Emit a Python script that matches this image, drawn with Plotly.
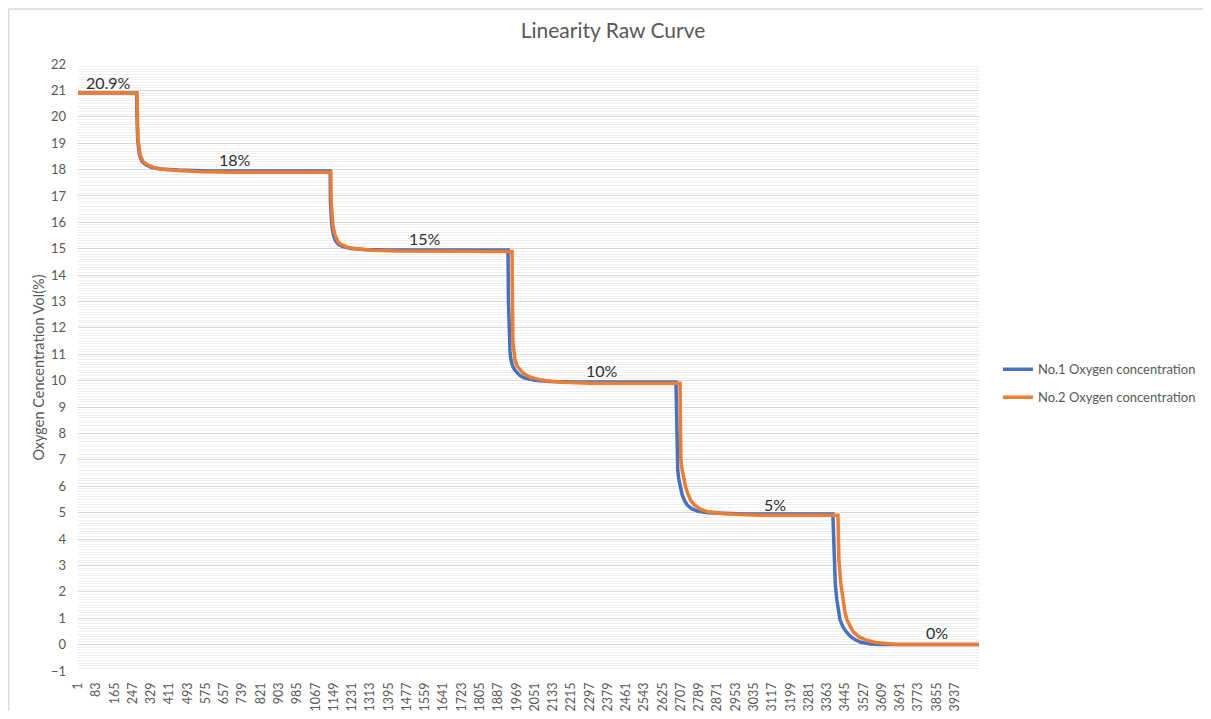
import plotly.graph_objects as go

# ---- data (sample index, O2 %) ----
no1_idx = [1, 264, 266, 269, 277, 289, 308, 332, 370, 450, 600, 1133,
           1134, 1140, 1148, 1157, 1170, 1190, 1225, 1290, 1400, 1931,
           1933, 1936, 1940, 1944, 1952, 1962, 1975, 1984, 2000, 2015, 2050, 2120, 2250, 2685,
           2687, 2689, 2693, 2698, 2705, 2712, 2722, 2734, 2755, 2784, 2830, 2900, 3000, 3389,
           3394, 3400, 3407, 3414, 3421, 3434, 3448, 3466, 3488, 3515, 3556, 3600, 4045]
no1_val = [20.9, 20.9, 19.9, 19.1, 18.55, 18.3, 18.17, 18.08, 18.02, 17.98, 17.95, 17.95,
           16.8, 15.9, 15.5, 15.3, 15.17, 15.08, 15.01, 14.97, 14.95, 14.95,
           13.0, 11.5, 11.1, 10.8, 10.55, 10.4, 10.28, 10.2, 10.12, 10.08, 10.02, 9.97, 9.95, 9.95,
           8.5, 7.0, 6.6, 6.25, 5.95, 5.7, 5.48, 5.3, 5.15, 5.05, 5.0, 4.97, 4.95, 4.95,
           3.2, 2.3, 1.7, 1.25, 0.95, 0.68, 0.5, 0.33, 0.19, 0.09, 0.02, 0.0, 0.0]

no2_idx = [1, 266, 268, 271, 280, 293, 315, 340, 380, 450, 560, 700, 1136,
           1137, 1145, 1155, 1166, 1180, 1205, 1245, 1320, 1430, 1949,
           1951, 1953, 1958, 1962, 1972, 1985, 2000, 2016, 2035, 2060, 2100, 2180, 2300, 2703,
           2705, 2707, 2713, 2721, 2729, 2739, 2750, 2766, 2795, 2829, 2900, 3000, 3100, 3412,
           3416, 3425, 3434, 3443, 3452, 3465, 3479, 3505, 3533, 3580, 3636, 3680, 4045]
no2_val = [20.9, 20.9, 19.9, 19.1, 18.55, 18.3, 18.17, 18.08, 18.01, 17.96, 17.92, 17.9, 17.9,
           16.8, 15.9, 15.5, 15.3, 15.17, 15.07, 15.0, 14.94, 14.91, 14.9,
           13.0, 11.5, 11.1, 10.8, 10.55, 10.4, 10.28, 10.2, 10.12, 10.07, 10.0, 9.94, 9.9, 9.9,
           8.5, 7.0, 6.6, 6.25, 5.95, 5.7, 5.48, 5.3, 5.13, 5.03, 4.96, 4.92, 4.9, 4.9,
           3.2, 2.3, 1.7, 1.25, 0.95, 0.7, 0.5, 0.3, 0.19, 0.08, 0.02, 0.0, 0.0]

x_tick_vals = [1, 83, 165, 247, 329, 411, 493, 575, 657, 739, 821, 903, 985,
               1067, 1149, 1231, 1313, 1395, 1477, 1559, 1641, 1723, 1805,
               1887, 1969, 2051, 2133, 2215, 2297, 2379, 2461, 2543, 2625,
               2707, 2789, 2871, 2953, 3035, 3117, 3199, 3281, 3363, 3445,
               3527, 3609, 3691, 3773, 3855, 3937]
x_tick_text = [str(v) for v in x_tick_vals]

label_text = ["20.9%", "18%", "15%", "10%", "5%", "0%"]
label_x = [140, 706, 1558, 2353, 3129, 3856]
label_y = [21.3, 18.38, 15.4, 10.4, 5.3, 0.45]

BLUE = "#4472C4"
ORANGE = "#ED7D31"
FONT = "Lato"

fig = go.Figure()
fig.add_trace(go.Scatter(x=no1_idx, y=no1_val, mode="lines",
                         name="No.1 Oxygen concentration", legendgroup="a",
                         line=dict(color=BLUE, width=3.5)))
fig.add_trace(go.Scatter(x=no2_idx, y=no2_val, mode="lines",
                         name="No.2 Oxygen concentration", legendgroup="b",
                         line=dict(color=ORANGE, width=3.5)))

for t, x, y in zip(label_text, label_x, label_y):
    fig.add_annotation(x=x, y=y, text=t, showarrow=False,
                       font=dict(family=FONT, size=16, color="#303030"))

fig.update_layout(
    width=1195, height=703,
    paper_bgcolor="white", plot_bgcolor="white",
    margin=dict(l=70, r=224, t=56, b=40, autoexpand=False),
    title=dict(text="Linearity Raw Curve", x=0.5063, xanchor="center",
               y=0.9673, yanchor="middle",
               font=dict(family=FONT, size=21, color="#595959")),
    font=dict(family=FONT, color="#595959"),
    legend=dict(x=1.021, xanchor="left", y=0.474, yanchor="middle",
                font=dict(family=FONT, size=13, color="#595959"),
                tracegroupgap=8, itemwidth=30, bgcolor="rgba(0,0,0,0)"),
    showlegend=True,
)

fig.update_xaxes(range=[1, 4045], tickmode="array", tickvals=x_tick_vals,
                 ticktext=x_tick_text, tickangle=-90, showgrid=False,
                 zeroline=False, showline=False, ticks="", ticklabelstandoff=8,
                 automargin=False,
                 tickfont=dict(family=FONT, size=12.5, color="#595959"))
fig.update_yaxes(range=[-1, 22], dtick=1, tick0=0, showgrid=True,
                 gridcolor="#d9d9d9", gridwidth=1, zeroline=False,
                 showline=False, ticks="", ticklabelstandoff=11, automargin=False,
                 minor=dict(dtick=0.1, showgrid=True, gridcolor="#efefef", gridwidth=1),
                 tickfont=dict(family=FONT, size=13, color="#595959"),
                 title=dict(text="Oxygen Cencentration Vol(%)", standoff=2,
                            font=dict(family=FONT, size=14.5, color="#595959")))

# chart-area border (left and top visible in reference)
fig.add_shape(type="line", xref="paper", yref="paper", x0=-0.0771, x1=-0.0771,
              y0=-0.08, y1=1.0907, line=dict(color="#d9d9d9", width=1.5))
fig.add_shape(type="line", xref="paper", yref="paper", x0=-0.0771, x1=1.2486,
              y0=1.0907, y1=1.0907, line=dict(color="#d9d9d9", width=1.5))

fig.write_html("out.html")
